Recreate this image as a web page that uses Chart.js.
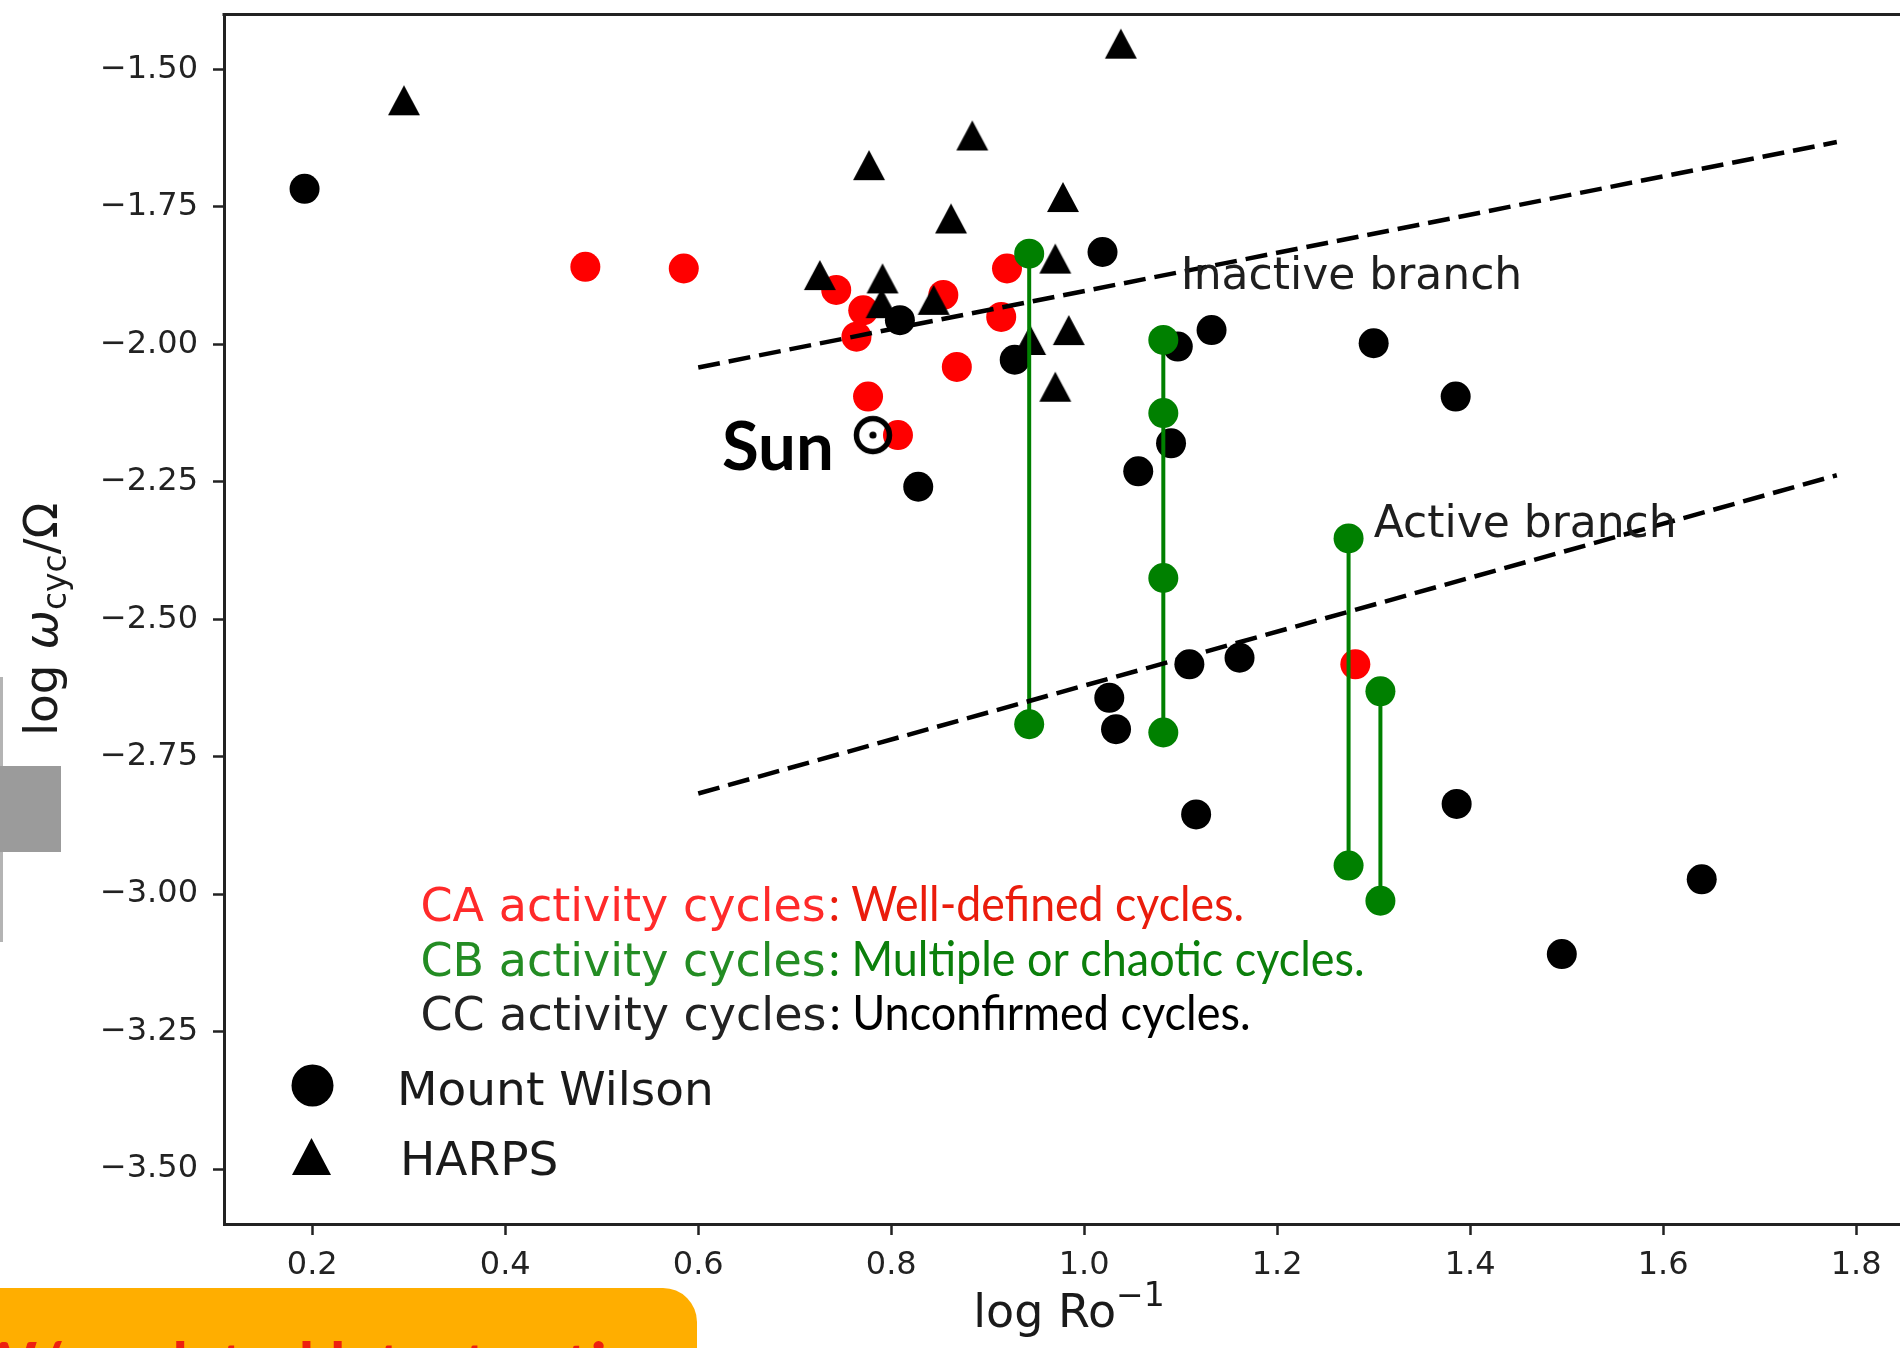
<!DOCTYPE html>
<html>
<head>
<meta charset="utf-8">
<script src="https://cdn.jsdelivr.net/npm/chart.js@4.4.1/dist/chart.umd.min.js"></script>
<style>
  html, body { margin: 0; padding: 0; background: #fff; overflow: hidden; width: 1900px; height: 1348px; }
  #wrap { position: absolute; left: 0; top: 0; width: 1920px; height: 1348px; }
  #c { display: block; }
  .slide-bar { position: absolute; left: 0; top: 677px; width: 3px; height: 265px; background: #b4b4b4; }
  .slide-tab { position: absolute; left: 0; top: 766px; width: 61px; height: 86px; background: #9b9b9b; }
  .callout { position: absolute; left: 0; top: 1288px; width: 697px; height: 60px; background: #ffae00;
             border-top-right-radius: 34px; overflow: hidden; }
  .callout canvas { position: absolute; left: 0; top: 0; display: block; }
</style>
</head>
<body>
<div id="wrap"><canvas id="c" width="1920" height="1348"></canvas></div>
<div class="slide-bar"></div>
<div class="slide-tab"></div>
<div class="callout"><canvas id="callout" width="697" height="60"></canvas></div>
<script>
// Axis limits and ticks
const xLimits = [0.1085, 1.86];
const yLimits = [-3.6, -1.4];
const xTicks = [0.2, 0.4, 0.6, 0.8, 1.0, 1.2, 1.4, 1.6, 1.8];
const yTicks = [-1.5, -1.75, -2.0, -2.25, -2.5, -2.75, -3.0, -3.25, -3.5];

// CA: well-defined cycles (Mount Wilson)
const caX = [0.483, 0.585, 0.743, 0.771, 0.764, 0.854, 0.920, 0.914, 0.868, 0.776, 0.807, 1.281];
const caY = [-1.859, -1.862, -1.901, -1.938, -1.986, -1.910, -1.862, -1.950, -2.041, -2.095, -2.165, -2.582];

// CB: multiple or chaotic cycles, one star per column
const cbX = [0.943, 1.082, 1.274, 1.307];
const cbY = [
  [-1.835, -2.691],
  [-1.992, -2.125, -2.425, -2.706],
  [-2.353, -2.948],
  [-2.631, -3.012]
];

// CC: unconfirmed cycles, Mount Wilson
const mwX = [0.192, 1.019, 0.809, 1.132, 1.097, 0.928, 1.300, 1.385, 1.090, 1.056, 0.828, 1.109, 1.161, 1.026, 1.033, 1.116, 1.386, 1.640, 1.495];
const mwY = [-1.717, -1.832, -1.956, -1.974, -2.004, -2.028, -1.998, -2.095, -2.180, -2.231, -2.259, -2.582, -2.570, -2.643, -2.700, -2.855, -2.836, -2.973, -3.109];

// CC: unconfirmed cycles, HARPS
const harpsX = [0.295, 1.038, 0.777, 0.884, 0.978, 0.862, 0.726, 0.791, 0.790, 0.844, 0.970, 0.944, 0.984, 0.970];
const harpsY = [-1.556, -1.453, -1.674, -1.620, -1.732, -1.771, -1.874, -1.880, -1.925, -1.919, -1.844, -1.992, -1.974, -2.077];

// The Sun
const sunX = [0.781];
const sunY = [-2.165];

// Branch fits
const branchX = [0.6, 1.78];
const inactiveY = [-2.042, -1.632];
const activeY = [-2.817, -2.238];
const branchLabels = ['Inactive branch', 'Active branch'];
const branchLabelX = [1.1, 1.3];
const branchLabelY = [-1.9, -2.35];

// Legend text
const classNames = ['CA activity cycles', 'CB activity cycles', 'CC activity cycles'];
const classNotes = [': Well-defined cycles.', ': Multiple or chaotic cycles.', ': Unconfirmed cycles.'];
const sourceNames = ['Mount Wilson', 'HARPS'];
const calloutText = 'W/ updated latest estimates';

const RED = '#ff0000', GREEN = '#008000', BLACK = '#000000';

const pts = (xs, ys) => xs.map((v, i) => ({ x: v, y: ys[i] }));

// Triangle marker centred on its bounding box
function triangleMarker(w, h, color) {
  const c = document.createElement('canvas');
  c.width = w + 2; c.height = h + 2;
  const g = c.getContext('2d');
  g.fillStyle = color;
  g.beginPath();
  g.moveTo(c.width / 2, 1);
  g.lineTo(c.width - 1, c.height - 1);
  g.lineTo(1, c.height - 1);
  g.closePath();
  g.fill();
  return c;
}

// Solar symbol: ring with a central dot
function sunMarker() {
  const c = document.createElement('canvas');
  c.width = 42; c.height = 42;
  const g = c.getContext('2d');
  g.strokeStyle = '#000'; g.lineWidth = 5.5;
  g.beginPath(); g.arc(21, 21, 16.5, 0, Math.PI * 2); g.stroke();
  g.fillStyle = '#000';
  g.beginPath(); g.arc(21, 21, 3.6, 0, Math.PI * 2); g.fill();
  return c;
}

const tri = triangleMarker(32, 30, BLACK);

const datasets = [];
// dashed branch lines on top
datasets.push({
  data: pts(branchX, inactiveY), showLine: true, borderColor: BLACK, borderWidth: 4.5,
  borderDash: [22, 9], pointRadius: 0, order: 0
});
datasets.push({
  data: pts(branchX, activeY), showLine: true, borderColor: BLACK, borderWidth: 4.5,
  borderDash: [22, 9], pointRadius: 0, order: 0
});
datasets.push({
  data: pts(sunX, sunY), pointStyle: sunMarker(), pointRadius: 20, order: 1
});
cbX.forEach((xv, k) => {
  datasets.push({
    data: cbY[k].map(v => ({ x: xv, y: v })), showLine: true, borderColor: GREEN, borderWidth: 4,
    pointRadius: 15, pointBackgroundColor: GREEN, pointBorderWidth: 0, order: 2
  });
});
datasets.push({
  data: pts(mwX, mwY), pointRadius: 15, pointBackgroundColor: BLACK, pointBorderWidth: 0, order: 3
});
datasets.push({
  data: pts(harpsX, harpsY), pointStyle: tri, pointRadius: 16, order: 4
});
datasets.push({
  data: pts(caX, caY), pointRadius: 15, pointBackgroundColor: RED, pointBorderWidth: 0, order: 5
});

function fitText(ctx, str, x, y, width, font, color) {
  ctx.save();
  ctx.font = font;
  const w = ctx.measureText(str).width;
  ctx.translate(x, y);
  ctx.scale(width / w, 1);
  ctx.fillStyle = color;
  ctx.textAlign = 'left';
  ctx.textBaseline = 'alphabetic';
  ctx.fillText(str, 0, 0);
  ctx.restore();
}

function runWidth(ctx, parts) {
  let w = 0;
  parts.forEach(p => { ctx.font = p.font; w += ctx.measureText(p.t).width; });
  return w;
}
function drawRun(ctx, parts, x, y) {
  parts.forEach(p => {
    ctx.font = p.font;
    ctx.fillText(p.t, x, y + (p.dy || 0));
    x += ctx.measureText(p.t).width;
  });
}

const overlay = {
  id: 'overlay',
  afterDatasetsDraw(chart) {
    const { ctx, chartArea: a, scales } = chart;
    const xs = scales.x, ys = scales.y;
    ctx.save();
    // top and right spines
    ctx.strokeStyle = '#222'; ctx.lineWidth = 3;
    ctx.beginPath();
    ctx.moveTo(a.left - 1.5, a.top); ctx.lineTo(a.right, a.top); ctx.lineTo(a.right, a.bottom);
    ctx.stroke();

    // branch annotations
    ctx.fillStyle = '#1e1e1e';
    ctx.textAlign = 'left'; ctx.textBaseline = 'alphabetic';
    ctx.font = '44px "DejaVu Sans"';
    branchLabels.forEach((s, i) => {
      ctx.fillText(s, xs.getPixelForValue(branchLabelX[i]), ys.getPixelForValue(branchLabelY[i]));
    });

    // Sun label to the left of the solar symbol
    const sx = xs.getPixelForValue(sunX[0]), sy = ys.getPixelForValue(sunY[0]);
    fitText(ctx, 'Sun', sx - 151, sy + 35, 112, 'bold 66px Lato, "Open Sans", sans-serif', '#000');

    // class legend
    const lx = a.left + 196.5;
    const baselines = [a.bottom - 303, a.bottom - 248.5, a.bottom - 194];
    const nameColors = ['#ff2a2a', '#238c23', '#222222'];
    const noteColors = ['#ea1c0c', '#0b7f0b', '#000000'];
    const noteEnds = [a.left + 1020, a.left + 1140.5, a.left + 1026.5];
    classNames.forEach((s, i) => {
      ctx.font = '46px "DejaVu Sans"';
      ctx.fillStyle = nameColors[i];
      ctx.fillText(s, lx, baselines[i]);
      const start = lx + ctx.measureText(s).width + 3;
      fitText(ctx, classNotes[i], start, baselines[i], noteEnds[i] - start, '48px Lato, "Open Sans", sans-serif', noteColors[i]);
    });

    // source legend
    ctx.fillStyle = '#000';
    ctx.beginPath(); ctx.arc(a.left + 88.5, a.bottom - 138.5, 21, 0, Math.PI * 2); ctx.fill();
    const tl = triangleMarker(39, 37, '#000');
    ctx.drawImage(tl, a.left + 87.5 - tl.width / 2, a.bottom - 67.5 - tl.height / 2);
    ctx.fillStyle = '#1a1a1a';
    ctx.font = '47px "DejaVu Sans"';
    ctx.fillText(sourceNames[0], a.left + 173, a.bottom - 119);
    ctx.fillText(sourceNames[1], a.left + 176, a.bottom - 49);

    // axis titles
    const fs = 46;
    const f = `${fs}px "DejaVu Sans"`;
    const fsub = `${Math.round(fs * 0.72)}px "DejaVu Sans"`;
    ctx.fillStyle = '#1a1a1a';
    const xt = [{ t: 'log Ro', font: f }, { t: '\u22121', font: fsub, dy: -fs * 0.45 }];
    const xw = runWidth(ctx, xt);
    drawRun(ctx, xt, (a.left + a.right) / 2 - xw / 2, 1327);

    const fy = 47;
    const yt = [{ t: 'log ', font: `${fy}px "DejaVu Sans"` }, { t: '\u03c9', font: `italic ${fy}px "DejaVu Sans"` },
                { t: 'cyc', font: `${Math.round(fy * 0.7)}px "DejaVu Sans"`, dy: fy * 0.2 },
                { t: '/\u03a9', font: `${fy}px "DejaVu Sans"` }];
    const yw = runWidth(ctx, yt);
    ctx.translate(57, (a.top + a.bottom) / 2);
    ctx.rotate(-Math.PI / 2);
    drawRun(ctx, yt, -yw / 2, 0);
    ctx.restore();
  }
};

const tickFont = { family: 'DejaVu Sans', size: 32 };

new Chart(document.getElementById('c'), {
  type: 'scatter',
  data: { datasets },
  options: {
    responsive: false,
    animation: false,
    events: [],
    layout: { autoPadding: false, padding: { top: 14.5, right: 6, left: 0, bottom: 0 } },
    plugins: { legend: { display: false }, tooltip: { enabled: false } },
    elements: { point: { hoverRadius: 0 } },
    scales: {
      x: {
        type: 'linear', min: xLimits[0], max: xLimits[1],
        afterFit: s => { s.height = 124; s.paddingLeft = 0; s.paddingRight = 0; },
        afterBuildTicks: s => { s.ticks = xTicks.map(v => ({ value: v })); },
        grid: { drawOnChartArea: false, drawTicks: true, tickLength: 11, tickWidth: 2.5, tickColor: '#222' },
        border: { display: true, color: '#222', width: 3 },
        ticks: { font: tickFont, color: '#222', padding: 11, maxRotation: 0, autoSkip: false,
                 callback: v => v.toFixed(1) }
      },
      y: {
        type: 'linear', min: yLimits[0], max: yLimits[1],
        afterFit: s => { s.width = 224; s.paddingTop = 0; s.paddingBottom = 0; },
        afterBuildTicks: s => { s.ticks = yTicks.map(v => ({ value: v })); },
        grid: { drawOnChartArea: false, drawTicks: true, tickLength: 11, tickWidth: 2.5, tickColor: '#222' },
        border: { display: true, color: '#222', width: 3 },
        ticks: { font: tickFont, color: '#222', padding: 15, autoSkip: false,
                 callback: v => (v < 0 ? '\u2212' : '') + Math.abs(v).toFixed(2) }
      }
    }
  },
  plugins: [overlay]
});

// Callout banner text; only the tops of its tall letters reach above the fold
(function () {
  const g = document.getElementById('callout').getContext('2d');
  g.font = 'bold 64px Lato, "Open Sans", sans-serif';
  g.fillStyle = '#ee2010';
  g.textBaseline = 'alphabetic';
  g.fillText(calloutText, -30, 100);
})();
</script>
</body>
</html>
